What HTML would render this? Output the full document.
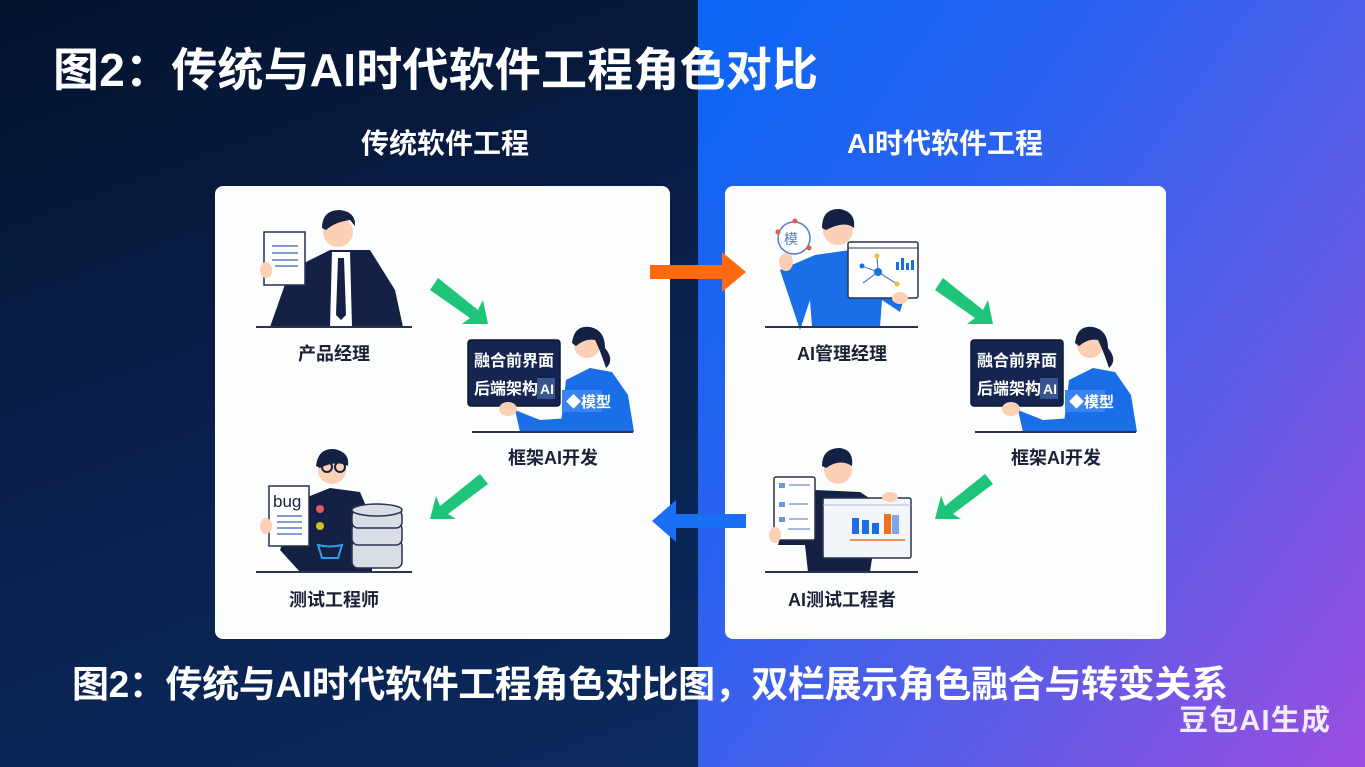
<!DOCTYPE html>
<html><head><meta charset="utf-8"><style>
html,body{margin:0;padding:0;}
body{width:1365px;height:767px;overflow:hidden;position:relative;font-family:"Liberation Sans","Noto Sans CJK SC",sans-serif;}
.bgL{position:absolute;left:0;top:0;width:698px;height:767px;background:linear-gradient(160deg,#04132e 0%,#0a2250 60%,#0b2a5e 100%);}
.bgR{position:absolute;left:698px;top:0;width:667px;height:767px;background:linear-gradient(125deg,#0a66f5 0%,#2c62ef 35%,#5a5ce6 65%,#9c4ee0 100%);}
</style></head><body>
<div class="bgL"></div><div class="bgR"></div>
<svg width="1365" height="767" style="position:absolute;left:0;top:0" font-family="Liberation Sans, Noto Sans CJK SC, sans-serif" font-weight="bold">
<text x="53" y="86" font-size="46" fill="#fff" textLength="765">图2：传统与AI时代软件工程角色对比</text>
<text x="445" y="153" font-size="28" fill="#fff" text-anchor="middle">传统软件工程</text>
<text x="945" y="153" font-size="28" fill="#fff" text-anchor="middle">AI时代软件工程</text>

<rect x="215" y="186" width="455" height="453" rx="8" fill="#fcfdfd"/>
<rect x="725" y="186" width="441" height="453" rx="8" fill="#fcfdfd"/>

<polygon points="650,265 722,265 722,252 746,272 722,292 722,279 650,279" fill="#ff6a10"/>
<polygon points="746,514 676,514 676,500 652,521 676,542 676,528 746,528" fill="#1a6ff5"/>

<g fill="#1ec47a">
<polygon points="430,290 438,278 478,310 483,300 488,324 462,324 470,318"/>
<polygon points="488,484 480,474 440,506 436,496 430,519 456,519 448,514"/>
<polygon points="935,290 943,278 983,310 988,300 993,324 967,324 975,318"/>
<polygon points="993,484 985,474 945,506 941,496 935,519 961,519 953,514"/>
</g>

<g>
<path d="M270 327 L290 270 L330 250 L370 250 L395 290 L403 327 Z" fill="#142144"/>
<polygon points="332,252 350,252 352,327 330,327" fill="#fff"/>
<polygon points="338,258 344,258 346,315 341,320 336,315" fill="#142144"/>
<circle cx="338" cy="232" r="15" fill="#fbd0b4"/>
<path d="M322 228 Q322 210 340 210 Q356 212 355 226 L350 220 Q335 222 326 230Z" fill="#142144"/>
<rect x="264" y="232" width="41" height="53" fill="#fff" stroke="#243050" stroke-width="1.5"/>
<g stroke="#5a7bc8" stroke-width="1.5"><line x1="272" y1="246" x2="298" y2="246"/><line x1="272" y1="253" x2="298" y2="253"/><line x1="272" y1="260" x2="298" y2="260"/><line x1="275" y1="266" x2="298" y2="266"/></g>
<ellipse cx="266" cy="270" rx="6" ry="8" fill="#fbd0b4"/>
<line x1="256" y1="327" x2="412" y2="327" stroke="#2a3350" stroke-width="2"/>
<text x="334" y="360" font-size="18" fill="#1a2238" text-anchor="middle">产品经理</text>
</g>

<g id="dev">
<path d="M560 432 L566 380 L590 368 L612 372 L628 395 L634 432 Z" fill="#1a6fe8"/>
<path d="M515 410 L540 420 L570 418 L580 432 L520 432 Z" fill="#1a6fe8"/>
<circle cx="587" cy="345" r="13" fill="#fbd0b4"/>
<path d="M572 343 Q574 325 590 327 Q605 330 605 348 Q615 360 606 368 Q600 350 595 340 Q585 338 576 346Z" fill="#142144"/>
<rect x="468" y="340" width="92" height="66" rx="3" fill="#142650" stroke="#0b1633" stroke-width="1.5"/>
<text x="474" y="366" font-size="16" fill="#fff">融合前界面</text>
<text x="474" y="394" font-size="16" fill="#fff">后端架构</text>
<rect x="537" y="378" width="18" height="21" fill="#3a5490"/>
<text x="540" y="394" font-size="14" fill="#fff">AI</text>
<rect x="562" y="390" width="40" height="22" fill="#3a84f0"/>
<text x="566" y="407" font-size="15" fill="#fff">◆模型</text>
<ellipse cx="508" cy="409" rx="9" ry="7" fill="#fbd0b4"/>
<line x1="472" y1="432" x2="633" y2="432" stroke="#2a3350" stroke-width="2"/>
<text x="553" y="464" font-size="18" fill="#1a2238" text-anchor="middle">框架AI开发</text>
</g>
<use href="#dev" x="503"/>

<g>
<path d="M280 550 L300 500 L330 488 L360 492 L372 520 L372 572 L300 572 Z" fill="#142144"/>
<circle cx="332" cy="470" r="14" fill="#fbd0b4"/>
<path d="M316 466 Q318 448 334 449 Q350 452 348 466 Q336 460 320 468Z" fill="#142144"/>
<circle cx="327" cy="467" r="5" fill="none" stroke="#142144" stroke-width="2"/><circle cx="340" cy="467" r="5" fill="none" stroke="#142144" stroke-width="2"/>
<rect x="269" y="486" width="40" height="60" fill="#fff" stroke="#243050" stroke-width="1.5"/>
<text x="273" y="507" font-size="17" fill="#142144" font-weight="normal">bug</text>
<g stroke="#5a7bc8" stroke-width="1.5"><line x1="277" y1="516" x2="302" y2="516"/><line x1="277" y1="522" x2="302" y2="522"/><line x1="277" y1="528" x2="302" y2="528"/><line x1="277" y1="534" x2="302" y2="534"/></g>
<circle cx="320" cy="509" r="4" fill="#e85a6a"/><circle cx="320" cy="526" r="4" fill="#d4c020"/>
<path d="M318 545 Q330 548 342 545 L338 558 L322 558Z" fill="none" stroke="#30a0e8" stroke-width="2"/>
<g fill="#d8dde6" stroke="#2a3350" stroke-width="1.5">
<rect x="352" y="540" width="50" height="28" rx="6"/><rect x="352" y="523" width="50" height="22" rx="6"/><rect x="352" y="510" width="50" height="18" rx="6"/>
<ellipse cx="377" cy="510" rx="25" ry="6"/></g>
<ellipse cx="266" cy="526" rx="6" ry="8" fill="#fbd0b4"/>
<line x1="256" y1="572" x2="412" y2="572" stroke="#2a3350" stroke-width="2"/>
<text x="334" y="606" font-size="18" fill="#1a2238" text-anchor="middle">测试工程师</text>
</g>

<g>
<path d="M780 270 L800 330 L810 300 L812 327 L880 327 L882 300 L900 312 L905 295 L885 270 L850 250 L815 255 Z" fill="#1a6fe8"/>
<circle cx="838" cy="230" r="15" fill="#fbd0b4"/>
<path d="M822 228 Q822 208 840 209 Q856 212 854 228 Q845 220 826 230Z" fill="#142144"/>
<circle cx="794" cy="238" r="16" fill="#fff" stroke="#5a7bc8" stroke-width="1.5"/>
<text x="784" y="244" font-size="14" fill="#5a7bc8" font-weight="normal">模</text>
<circle cx="795" cy="221" r="2.5" fill="#e85a4a"/><circle cx="778" cy="232" r="2.5" fill="#e85a4a"/><circle cx="809" cy="248" r="2.5" fill="#e85a4a"/>
<ellipse cx="786" cy="262" rx="7" ry="9" fill="#fbd0b4"/>
<rect x="848" y="242" width="70" height="56" rx="2" fill="#fff" stroke="#2a3350" stroke-width="1.5"/>
<line x1="848" y1="248" x2="918" y2="248" stroke="#2a3350"/>
<g stroke="#5a7bc8" stroke-width="1.2"><line x1="862" y1="266" x2="878" y2="272"/><line x1="878" y1="272" x2="877" y2="256"/><line x1="878" y1="272" x2="863" y2="283"/><line x1="878" y1="272" x2="897" y2="284"/></g>
<circle cx="878" cy="272" r="4" fill="#1a6fe8"/><circle cx="862" cy="266" r="2.5" fill="#1a6fe8"/><circle cx="877" cy="256" r="2.5" fill="#e8c030"/><circle cx="897" cy="284" r="2.5" fill="#e8c030"/>
<g fill="#1a6fe8"><rect x="896" y="262" width="3" height="8"/><rect x="901" y="258" width="3" height="12"/><rect x="906" y="263" width="3" height="7"/><rect x="911" y="260" width="3" height="10"/></g>
<ellipse cx="900" cy="298" rx="8" ry="6" fill="#fbd0b4"/>
<line x1="765" y1="327" x2="918" y2="327" stroke="#2a3350" stroke-width="2"/>
<text x="842" y="360" font-size="18" fill="#1a2238" text-anchor="middle">AI管理经理</text>
</g>

<g>
<path d="M778 545 L790 500 L815 490 L860 492 L880 505 L870 572 L808 572 L805 545 Z" fill="#142144"/>
<circle cx="838" cy="470" r="14" fill="#fbd0b4"/>
<path d="M822 466 Q822 448 840 448 Q854 450 852 466 Q840 458 826 468Z" fill="#142144"/>
<rect x="774" y="477" width="41" height="63" rx="2" fill="#fff" stroke="#2a3350" stroke-width="1.5"/>
<g fill="#6a98e0"><rect x="779" y="483" width="6" height="5"/><rect x="779" y="502" width="6" height="5"/><rect x="779" y="517" width="6" height="5"/></g>
<g stroke="#8aa0c8" stroke-width="1.5"><line x1="789" y1="485" x2="810" y2="485"/><line x1="789" y1="504" x2="808" y2="504"/><line x1="789" y1="519" x2="808" y2="519"/><line x1="788" y1="529" x2="810" y2="529"/></g>
<ellipse cx="775" cy="535" rx="6" ry="8" fill="#fbd0b4"/>
<rect x="823" y="498" width="88" height="60" rx="2" fill="#f2f5fa" stroke="#2a3350" stroke-width="1.5"/>
<line x1="823" y1="505" x2="911" y2="505" stroke="#b0bcd0"/>
<g fill="#1a6fe8"><rect x="852" y="518" width="7" height="16"/><rect x="862" y="520" width="7" height="14"/><rect x="872" y="523" width="7" height="11"/><rect x="892" y="515" width="7" height="19" fill="#7ea6e6"/></g>
<rect x="884" y="514" width="7" height="20" fill="#f07020"/>
<line x1="850" y1="540" x2="905" y2="540" stroke="#f07020" stroke-width="1.5"/>
<ellipse cx="890" cy="497" rx="8" ry="5" fill="#fbd0b4"/>
<line x1="765" y1="572" x2="918" y2="572" stroke="#2a3350" stroke-width="2"/>
<text x="842" y="606" font-size="18" fill="#1a2238" text-anchor="middle">AI测试工程者</text>
</g>

<text x="72" y="697" font-size="37" fill="#fff" textLength="1156">图2：传统与AI时代软件工程角色对比图，双栏展示角色融合与转变关系</text>
<text x="1179" y="730" font-size="29" fill="#f2ecff" textLength="151">豆包AI生成</text>
</svg>
</body></html>
